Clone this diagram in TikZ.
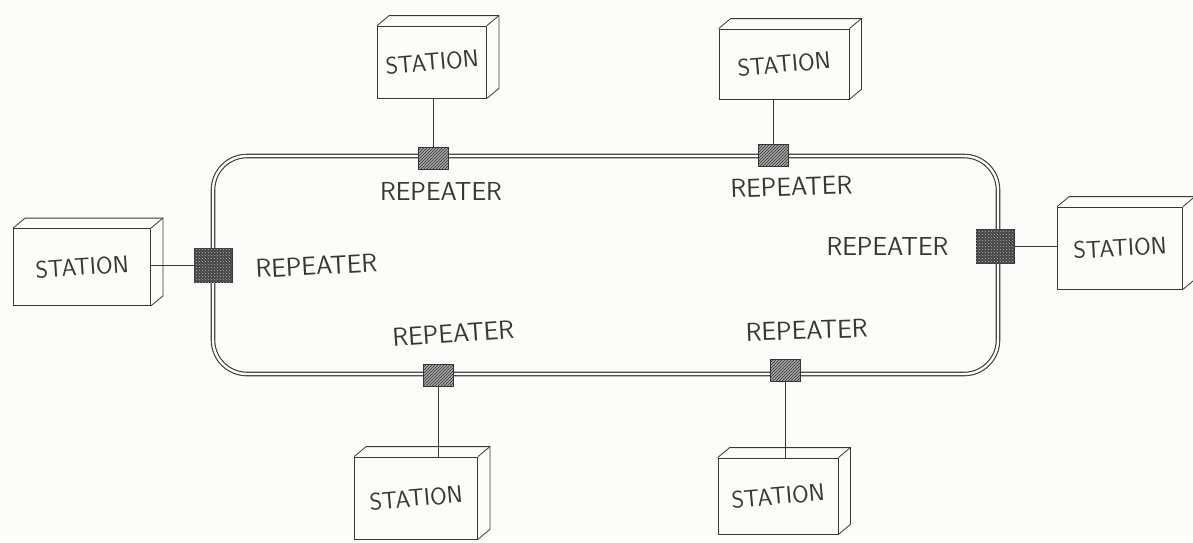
\documentclass[tikz,border=0pt]{standalone}
\usepackage{tikz}
\usetikzlibrary{positioning,calc,patterns}
\definecolor{pencil}{RGB}{55,55,55}
\definecolor{paper}{RGB}{252,252,250}

\begin{document}
\begin{tikzpicture}[x=1pt, y=-1pt,
    ring/.style={draw=pencil, line width=1.1pt, double=paper, double distance=2.4pt, rounded corners=34pt},
    rep/.style={draw=pencil, line width=0.8pt, fill=gray!70, minimum width=30pt, minimum height=22pt, inner sep=0pt,
        postaction={pattern=north east lines, pattern color=black!80}},
    repbig/.style={rep, fill=black!70, minimum width=38pt, minimum height=34pt,
        postaction={pattern=crosshatch dots, pattern color=gray!60}},
    station/.style={draw=pencil, line width=0.8pt, fill=paper, minimum width=#1, minimum height=72pt, inner sep=0pt,
        font=\sffamily\fontsize{24}{28}\selectfont, text=pencil},
    replabel/.style={font=\sffamily\fontsize{26}{30}\selectfont, text=pencil, inner sep=1pt},
    link/.style={draw=pencil, line width=0.6pt}
]
\useasboundingbox[fill=paper] (0,0) rectangle (1193,542);

% the ring
\draw[ring] (213,156) rectangle (998,374);

% repeaters on the ring
\node[rep] (r1) at (433,158) {};
\node[rep] (r2) at (773,155) {};
\node[repbig] (r3) at (213,265) {};
\node[repbig] (r4) at (995,246) {};
\node[rep] (r5) at (438,375) {};
\node[rep] (r6) at (785,370) {};

% stations
\node[station=109pt] (s1) at (432,62) {\rotatebox{5}{STATION}};
\node[station=130pt, minimum height=70pt] (s2) at (784,64) {\rotatebox{5}{STATION}};
\node[station=137pt, minimum height=77pt] (s3) at (82,267) {\rotatebox{4}{STATION}};
\node[station=125pt, minimum height=82pt] (s4) at (1120,248) {\rotatebox{3}{STATION}};
\node[station=123pt, minimum height=82pt] (s5) at (416,498) {\rotatebox{5}{STATION}};
\node[station=120pt, minimum height=76pt] (s6) at (778,496) {\rotatebox{5}{STATION}};

% box depth
\foreach \s in {s1,s2,s3,s4,s5,s6}{
    \draw[pencil, line width=0.8pt] (\s.north west) -- ++(12,-10) -- ($(\s.north east)+(12,-10)$)
        -- ($(\s.south east)+(12,-10)$) -- (\s.south east);
    \draw[pencil, line width=0.8pt] (\s.north east) -- ++(12,-10);
}

% links
\draw[link] (r1.north) -- (r1.north |- s1.south);
\draw[link] (r2.north) -- (r2.north |- s2.south);
\draw[link] (r3.west) -- (r3.west -| s3.east);
\draw[link] (r4.east) -- (r4.east -| s4.west);
\draw[link] (r5.south) -- (r5.south |- s5.north);
\draw[link] (r6.south) -- (r6.south |- s6.north);

% labels
\node[replabel, below=12pt of r1, xshift=8pt] (l1) {REPEATER};
\node[replabel, below=10pt of r2, xshift=18pt, rotate=2] (l2) {REPEATER};
\node[replabel, right=22pt of r3, yshift=-4pt, rotate=3] (l3) {REPEATER};
\node[replabel, left=26pt of r4] (l4) {REPEATER};
\node[replabel, above=20pt of r5, xshift=16pt, rotate=4] (l5) {REPEATER};
\node[replabel, above=18pt of r6, xshift=22pt, rotate=2] (l6) {REPEATER};
\end{tikzpicture}
\end{document}
